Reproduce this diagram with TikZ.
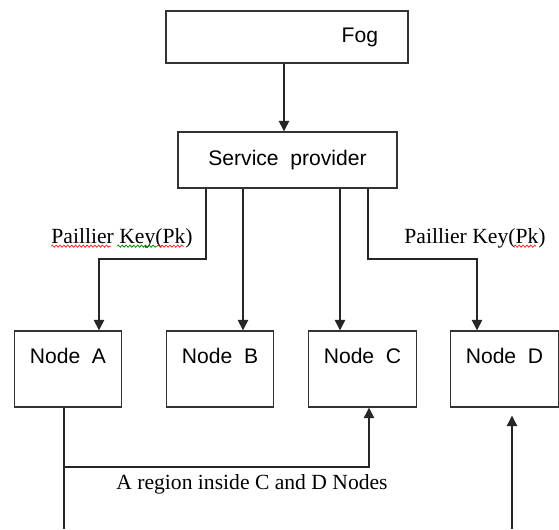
\documentclass[tikz,border=0pt]{standalone}
\usepackage{fontspec}
\setmainfont{Liberation Serif}
\newfontfamily\boxfont{Liberation Sans}
\usetikzlibrary{arrows.meta,calc,decorations.pathmorphing}

\begin{document}
\begin{tikzpicture}[
      x=0.02cm, y=-0.02cm,
      >={Triangle[length=6pt,width=6pt]},
      conn/.style={line width=0.7pt, draw=black!85},
      box/.style={draw=black!80, line width=0.8pt, font=\boxfont\fontsize{12}{14}\selectfont},
      peer/.style={box, minimum width=2.15cm, text height=0.64cm, text depth=0.88cm, inner ysep=0pt},
      lab/.style={font=\fontsize{12.3}{14}\selectfont, inner sep=0pt},
      spell/.style={decorate, decoration={snake, segment length=2.2pt, amplitude=0.6pt}, line width=0.45pt}]
    \useasboundingbox (0,0) rectangle (559,529);
    % Top: fog and the service provider below it
    \node[box, text width=3.64cm, inner xsep=0.6cm, minimum height=1.04cm, align=right] (fog) at (287,37) {Fog};
    \node[box, minimum width=4.38cm, minimum height=1.12cm] (sp) at (287.5,160) {Service~~provider};
    % Row of nodes
    \node[peer] (na) at (68,369)    {Node~~A};
    \node[peer] (nb) at (220,369)   {Node~~B};
    \node[peer] (nc) at (362.5,369) {Node~~C};
    \node[peer] (nd) at (504.5,369) {Node~~D};
    % Labels
    \node[lab] (keyA) at (122,238) {Paillier Key(Pk)};
    \node[lab] (keyD) at (475,238) {Paillier Key(Pk)};
    \node[lab] (region) at (252,484) {A region inside C and D Nodes};
    % Bend points of the connectors
    \coordinate (tapF) at (284,100);
    \coordinate (elbowA1) at (206,259);
    \coordinate (elbowA2) at (99,259);
    \coordinate (colB) at (243,259);
    \coordinate (colC) at (340,259);
    \coordinate (elbowD1) at (368,259);
    \coordinate (elbowD2) at (477,259);
    \coordinate (regA) at (64,467);
    \coordinate (regC) at (369,467);
    \coordinate (exitA) at (64,529);
    \coordinate (entD) at (512,529);
    % Arrows
    \draw[conn, ->] (fog.south -| tapF) -- (sp.north -| tapF);
    \draw[conn, ->] (sp.south -| elbowA1) -- (elbowA1) -- (elbowA2) -- (na.north -| elbowA2);
    \draw[conn, ->] (sp.south -| colB) -- (nb.north -| colB);
    \draw[conn, ->] (sp.south -| colC) -- (nc.north -| colC);
    \draw[conn, ->] (sp.south -| elbowD1) -- (elbowD1) -- (elbowD2) -- (nd.north -| elbowD2);
    \draw[conn] (na.south -| regA) -- (exitA);
    \draw[conn, ->] (regA) -- (regC) -- (nc.south -| regC);
    \draw[conn, ->] (entD) -- ([yshift=-0.16cm]nd.south -| entD);
    % spell-check marks under the key labels
    \draw[spell, red!85] ([shift={(0,3)}]keyA.base west) -- ++(60,0);
    \draw[spell, green!55!black] ([shift={(66,3)}]keyA.base west) -- ++(40,0);
    \draw[spell, red!85] ([shift={(106,3)}]keyA.base west) -- ++(27,0);
    \draw[spell, red!85] ([shift={(110,3)}]keyD.base west) -- ++(22,0);
  \end{tikzpicture}
\end{document}
